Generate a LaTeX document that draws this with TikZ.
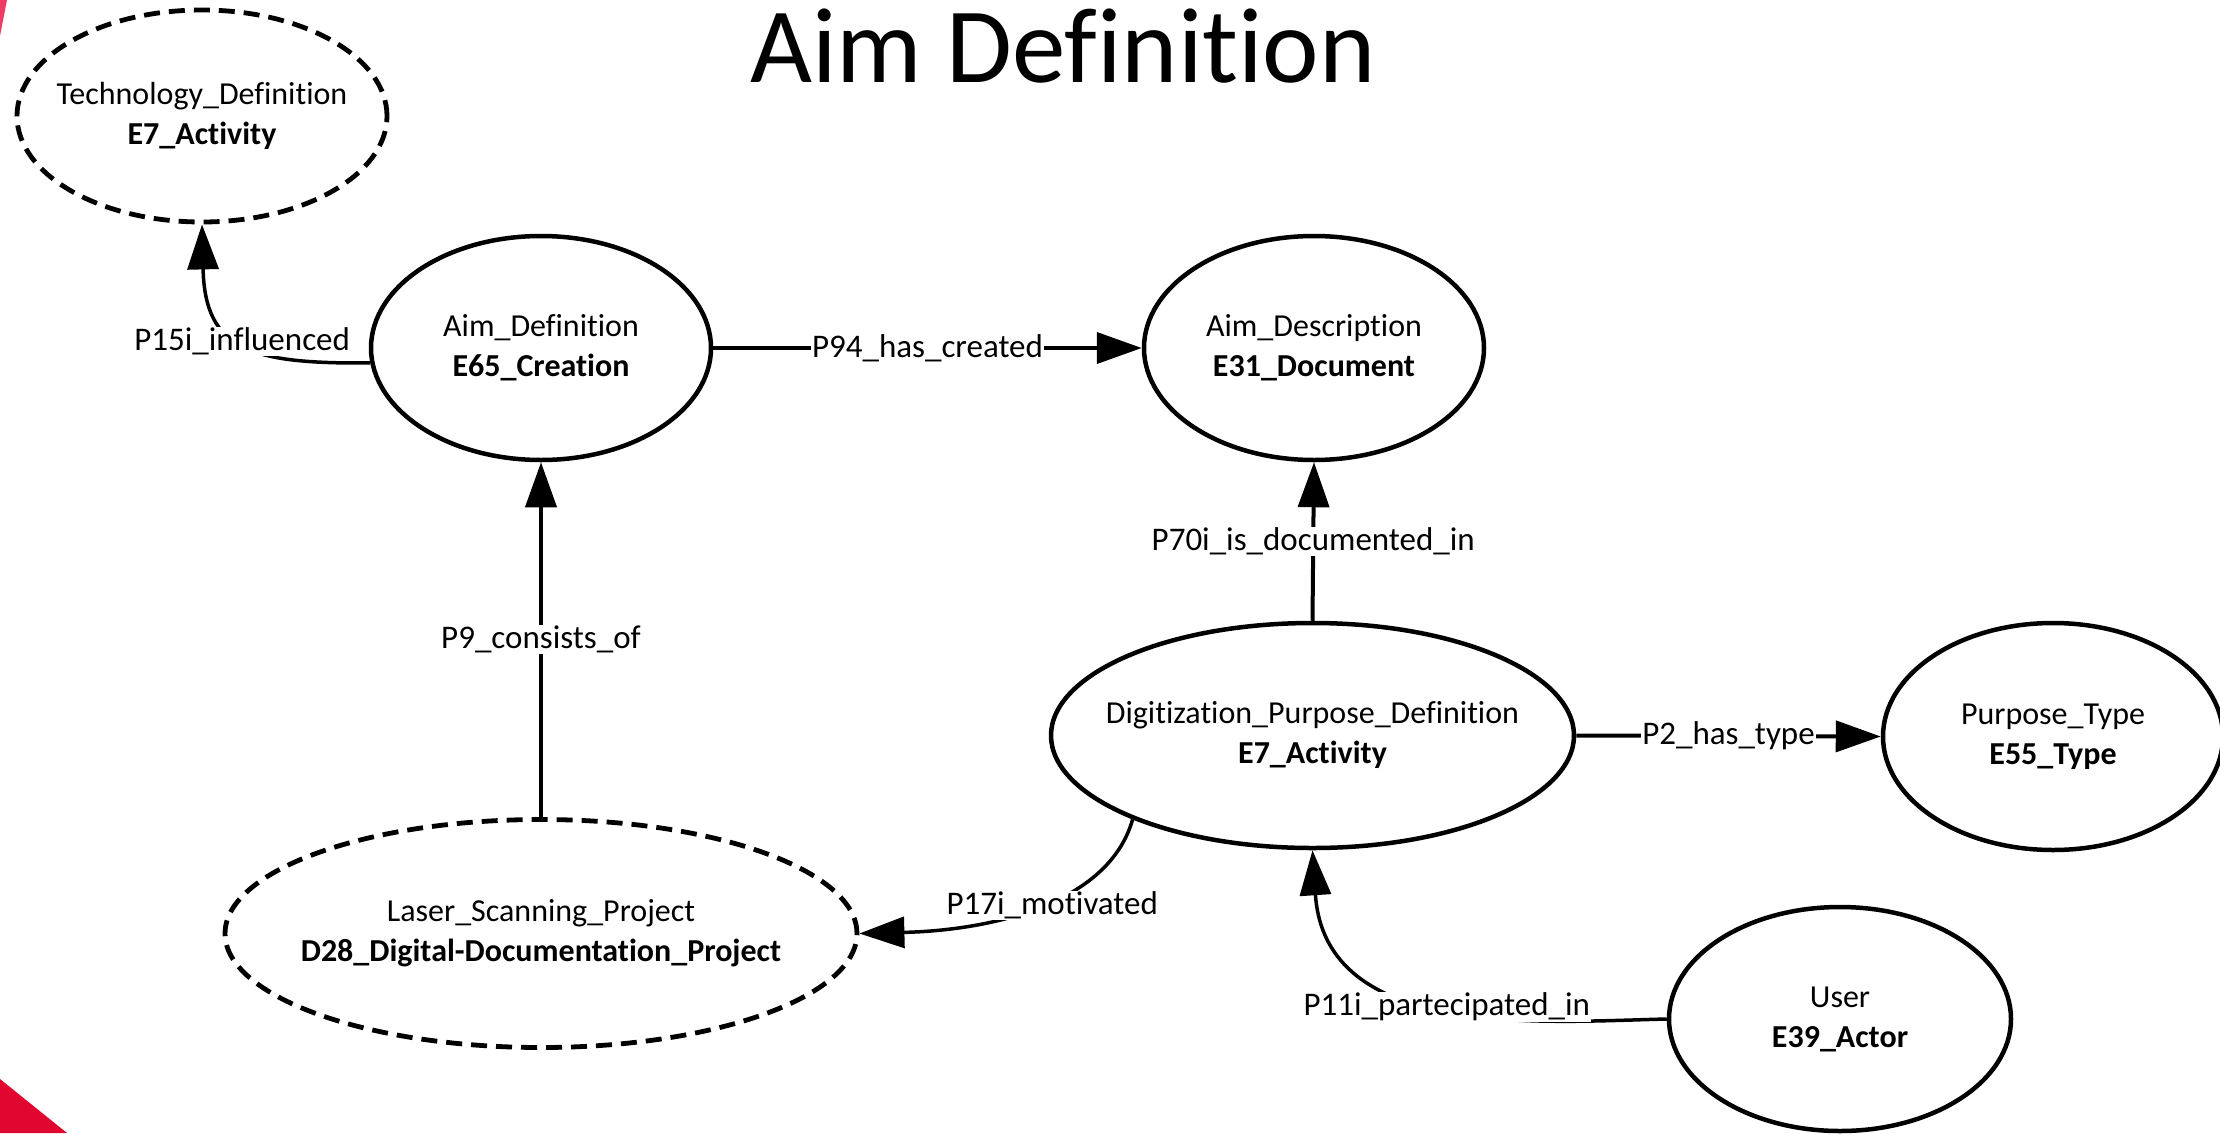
\documentclass[tikz,border=0pt]{standalone}
\usepackage{fontspec}
\setmainfont{Carlito}[Ligatures={NoCommon}]
\usetikzlibrary{shapes.geometric,arrows.meta}
\definecolor{accentred}{HTML}{E00630}
\definecolor{accentpink}{HTML}{F03C64}
% two-line entity caption: instance name over bold class name;
% boxed at zero width so the ellipse size comes only from the node options
\newcommand\entcaption[2]{\makebox[0pt]{\begin{tabular}{@{}c@{}}#1\\\textbf{#2}\end{tabular}}}
\begin{document}
\begin{tikzpicture}[x=1pt,y=-1pt,
  entity/.style={ellipse,draw=black,line width=4.5pt,fill=white,inner sep=0pt,
    font=\fontsize{32}{40}\selectfont},
  virtual/.style={entity,line width=4.8pt,dash pattern=on 16pt off 9pt},
  rel/.style={line width=4pt,-{Triangle[length=45pt,width=31pt]}},
  curved/.style={rel,line width=3.5pt},
  lbl/.style={fill=white,inner sep=1pt,font=\fontsize{33}{40}\selectfont}]
\useasboundingbox (0,0) rectangle (2220,1133);

% corner accents
\fill[accentpink] (0,0) -- (7,0) -- (0,36) -- cycle;
\fill[accentred] (0,1079) -- (67,1133) -- (0,1133) -- cycle;

% title
\node[font=\fontsize{107}{120}\selectfont,anchor=base,inner sep=0pt] (title) at (1063,82) {Aim Definition};

% entities
\node[virtual,minimum width=370pt,minimum height=212pt] (tech) at (202,116)
  {\entcaption{Technology\_Definition}{E7\_Activity}};
\node[entity,minimum width=340pt,minimum height=224pt] (aimdef) at (541,348)
  {\entcaption{Aim\_Definition}{E65\_Creation}};
\node[entity,minimum width=340pt,minimum height=224pt] (aimdesc) at (1314,348)
  {\entcaption{Aim\_Description}{E31\_Document}};
\node[entity,minimum width=523pt,minimum height=225pt] (dig) at (1312.5,735.5)
  {\entcaption{Digitization\_Purpose\_Definition}{E7\_Activity}};
\node[entity,minimum width=340pt,minimum height=227pt] (ptype) at (2053,736.5)
  {\entcaption{Purpose\_Type}{E55\_Type}};
\node[virtual,minimum width=632pt,minimum height=228pt] (laser) at (541,933.5)
  {\entcaption{Laser\_Scanning\_Project}{D28\_Digital-Documentation\_Project}};
\node[entity,minimum width=342pt,minimum height=224pt] (user) at (1840,1019)
  {\entcaption{User}{E39\_Actor}};

% straight relations
\draw[rel] (aimdef.east) -- node[lbl] (l94) {P94\_has\_created} (aimdesc.west);
\draw[rel] (dig.north) -- node[lbl] (l70) {P70i\_is\_documented\_in} (aimdesc.south);
\draw[rel] (laser.north) -- node[lbl] (l9) {P9\_consists\_of} (aimdef.south);
\draw[rel] (dig.east) -- node[lbl] (l2) {P2\_has\_type} (ptype.west);

% curved relations
\draw[curved] (aimdef.185) .. controls (250,364) and (205,350) .. (tech.south)
  node[lbl,pos=0.5] (l15) {P15i\_influenced};
\draw[curved] (dig.205) .. controls (1110,900) and (1000,930) .. (laser.east)
  node[lbl,pos=0.5,xshift=12pt] (l17) {P17i\_motivated};
\draw[curved] (user.west) .. controls (1540,1022) and (1325,1040) .. (dig.south)
  node[lbl,pos=0.5] (l11) {P11i\_partecipated\_in};
\end{tikzpicture}
\end{document}
